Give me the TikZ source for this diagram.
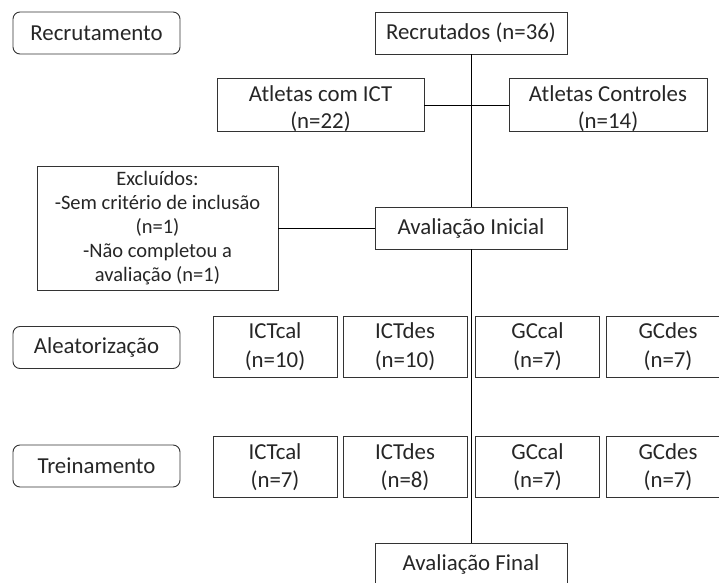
\documentclass[tikz,border=0pt]{standalone}
\usepackage{fontspec}
\setmainfont{Carlito}
\usepackage{tikz}

\begin{document}
\begin{tikzpicture}[x=0.03cm, y=-0.03cm,
        box/.style={draw=black!80, text=black!85, line width=0.8pt, inner sep=0pt,
            align=center, font=\fontsize{19.5}{24.5}\selectfont},
        phase/.style={box, rounded corners=6pt, minimum width=167*0.03cm, minimum height=42*0.03cm},
        group/.style={box, minimum width=124*0.03cm, minimum height=61*0.03cm}]

            % Clips the global figure to the page size
            \clip (0,0) rectangle (719,583);

            % Draws the phase labels on the left
            \node[phase] (fase1) at (96.5,33) {Recrutamento};
            \node[phase] (fase2) at (96.5,347.5) {Aleatorização};
            \node[phase] (fase3) at (96.5,466) {Treinamento};

            % Draws the main boxes of the flow
            \node[box, minimum width=192*0.03cm, minimum height=42*0.03cm] (recr) at (471,33) {Recrutados (n=36)};
            \node[box, minimum width=207*0.03cm, minimum height=48*0.03cm, font=\fontsize{19.5}{22.5}\selectfont]
                (ict) at (320.5,105) {\rule{0pt}{20pt}Atletas com ICT\\(n=22)};
            \node[box, minimum width=198*0.03cm, minimum height=48*0.03cm, font=\fontsize{19.5}{22.5}\selectfont]
                (ctrl) at (608,105) {\rule{0pt}{20pt}Atletas Controles\\(n=14)};
            \node[box, minimum width=192*0.03cm, minimum height=42*0.03cm] (inicial) at (471,228) {Avaliação Inicial};
            \node[box, minimum width=192*0.03cm, minimum height=42*0.03cm] (final) at (471,564) {Avaliação Final};

            % Draws the box of the excluded athletes
            \node[box, minimum width=241*0.03cm, minimum height=124*0.03cm,
                font=\fontsize{17.5}{20.5}\selectfont] (excl) at (157.5,228)
                {Excluídos:\\-Sem critério de inclusão\\(n=1)\\-Não completou a\\avaliação (n=1)};

            % For each group, draws the box after randomization and after training
            \foreach \name/\cx/\lab/\na/\nb in {ictcal/275/ICTcal/10/7, ictdes/405/ICTdes/10/8,
                gccal/537.5/GCcal/7/7, gcdes/668/GCdes/7/7} {

                \node[group] (\name a) at (\cx,346.5) {\lab\\(n=\na)};
                \node[group] (\name b) at (\cx,467) {\lab\\(n=\nb)};

            }

            % Draws the connecting lines
            \draw[line width=0.8pt] (recr) -- (inicial);
            \draw[line width=0.8pt] (inicial) -- (final);
            \draw[line width=0.8pt] (ict) -- (ctrl);
            \draw[line width=0.8pt] (excl) -- (inicial);

        \end{tikzpicture}
\end{document}
